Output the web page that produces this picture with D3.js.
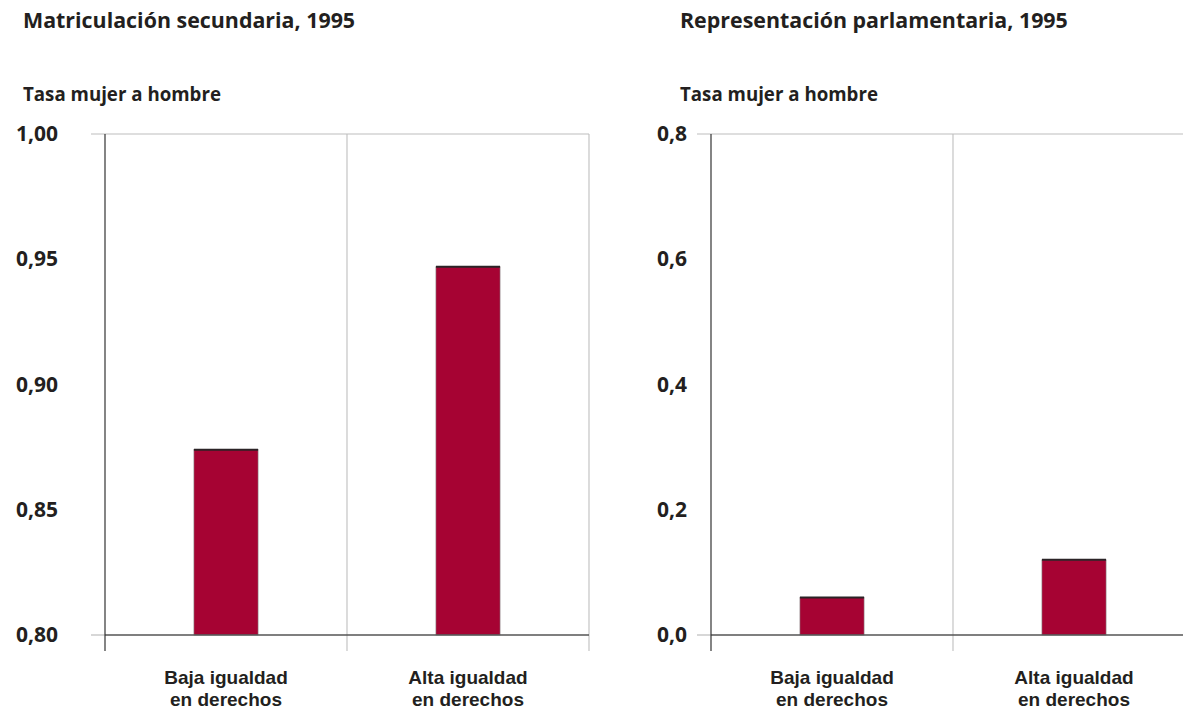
<!DOCTYPE html>
<html>
<head>
<meta charset="utf-8">
<script src="https://cdn.jsdelivr.net/npm/d3@7"></script>
<style>
  html, body { margin: 0; padding: 0; background: #fff; }
  svg { display: block; }
  text { font-family: "Open Sans", "Liberation Sans", Arial, sans-serif; font-weight: 700; fill: #231f20; }
</style>
</head>
<body>
<svg id="chart" width="1183" height="710"></svg>
<script>
// ---- data ----
const categories = ["Baja igualdad en derechos", "Alta igualdad en derechos"];
const categoryLines = [["Baja igualdad", "en derechos"], ["Alta igualdad", "en derechos"]];
const enrolmentValues = [0.874, 0.947];
const parliamentValues = [0.06, 0.12];
const enrolmentTicks = [0.80, 0.85, 0.90, 0.95, 1.00];
const parliamentTicks = [0.0, 0.2, 0.4, 0.6, 0.8];
const panelTitles = ["Matriculación secundaria, 1995", "Representación parlamentaria, 1995"];
const axisTitle = "Tasa mujer a hombre";

const svg = d3.select("#chart");
const barColor = "#a60333";
const FONT = "'Open Sans', 'Liberation Sans', Arial, sans-serif";

function drawPanel(opts) {
  const { left, titleX, title, values, ticks, decimals } = opts;
  const top = 134, bottom = 635, width = 484;
  const g = svg.append("g");

  const x = d3.scaleBand().domain(categories).range([left, left + width]).padding(0);
  const y = d3.scaleLinear().domain([ticks[0], ticks[ticks.length - 1]]).range([bottom, top]);

  // titles
  g.append("text").attr("x", titleX).attr("y", 28).attr("font-size", 21.4).text(title);
  g.append("text").attr("x", titleX).attr("y", 101).attr("font-size", 18.7).text(axisTitle);

  // vertical band separators (light grey)
  const edges = [left + x.bandwidth(), left + width];
  g.selectAll("line.sep").data(edges).join("line")
    .attr("x1", d => d).attr("x2", d => d)
    .attr("y1", top).attr("y2", bottom + 16)
    .attr("stroke", "#c4c4c4").attr("stroke-width", 1.2);

  // top gridline
  g.append("line").attr("x1", left - 14).attr("x2", left + width)
    .attr("y1", y(ticks[ticks.length - 1])).attr("y2", y(ticks[ticks.length - 1]))
    .attr("stroke", "#bdbdbd").attr("stroke-width", 1.2);

  // bars
  const bw = x.bandwidth() * 0.265;
  g.selectAll("rect.bar").data(values).join("rect")
    .attr("x", (d, i) => x(categories[i]) + x.bandwidth() / 2 - bw / 2)
    .attr("width", bw)
    .attr("y", d => y(d))
    .attr("height", d => y(ticks[0]) - y(d))
    .attr("fill", barColor)
    .attr("stroke", "#8a8a8a").attr("stroke-width", 0.6);
  g.selectAll("line.bartop").data(values).join("line")
    .attr("x1", (d, i) => x(categories[i]) + x.bandwidth() / 2 - bw / 2)
    .attr("x2", (d, i) => x(categories[i]) + x.bandwidth() / 2 + bw / 2)
    .attr("y1", d => y(d)).attr("y2", d => y(d))
    .attr("stroke", "#2b2326").attr("stroke-width", 2);

  // baseline: grey stub + dark axis line
  g.append("line").attr("x1", left - 14).attr("x2", left)
    .attr("y1", bottom).attr("y2", bottom).attr("stroke", "#bdbdbd").attr("stroke-width", 1.2);
  g.append("line").attr("x1", left).attr("x2", left + width)
    .attr("y1", bottom).attr("y2", bottom).attr("stroke", "#555").attr("stroke-width", 1.3);

  // y axis line
  g.append("line").attr("x1", left).attr("x2", left)
    .attr("y1", top).attr("y2", bottom + 16)
    .attr("stroke", "#333").attr("stroke-width", 1.2);

  // y axis labels
  const fmt = v => d3.format("." + decimals + "f")(v).replace(".", ",");
  const yAxis = d3.axisLeft(y).tickValues(ticks).tickSize(0).tickPadding(opts.tickPad).tickFormat(fmt);
  const ya = g.append("g").attr("transform", `translate(${left},0)`).call(yAxis);
  ya.select(".domain").remove();
  ya.selectAll("text").attr("font-size", 21).attr("font-family", null).attr("fill", "#231f20")
    .style("font-family", FONT).style("font-weight", 700);

  // x labels (two lines each)
  categoryLines.forEach((lines, i) => {
    const cx = x(categories[i]) + x.bandwidth() / 2;
    g.selectAll(null).data(lines).join("text")
      .attr("text-anchor", "middle")
      .attr("font-size", 19)
      .style("font-family", "'Liberation Sans', Arial, sans-serif")
      .attr("x", cx).attr("y", (d, j) => 684 + j * 22).text(d => d);
  });
}

drawPanel({ left: 105, titleX: 23, title: panelTitles[0], values: enrolmentValues, ticks: enrolmentTicks, decimals: 2, tickPad: 47 });
drawPanel({ left: 711, titleX: 680, title: panelTitles[1], values: parliamentValues, ticks: parliamentTicks, decimals: 1, tickPad: 24 });
</script>
</body>
</html>
